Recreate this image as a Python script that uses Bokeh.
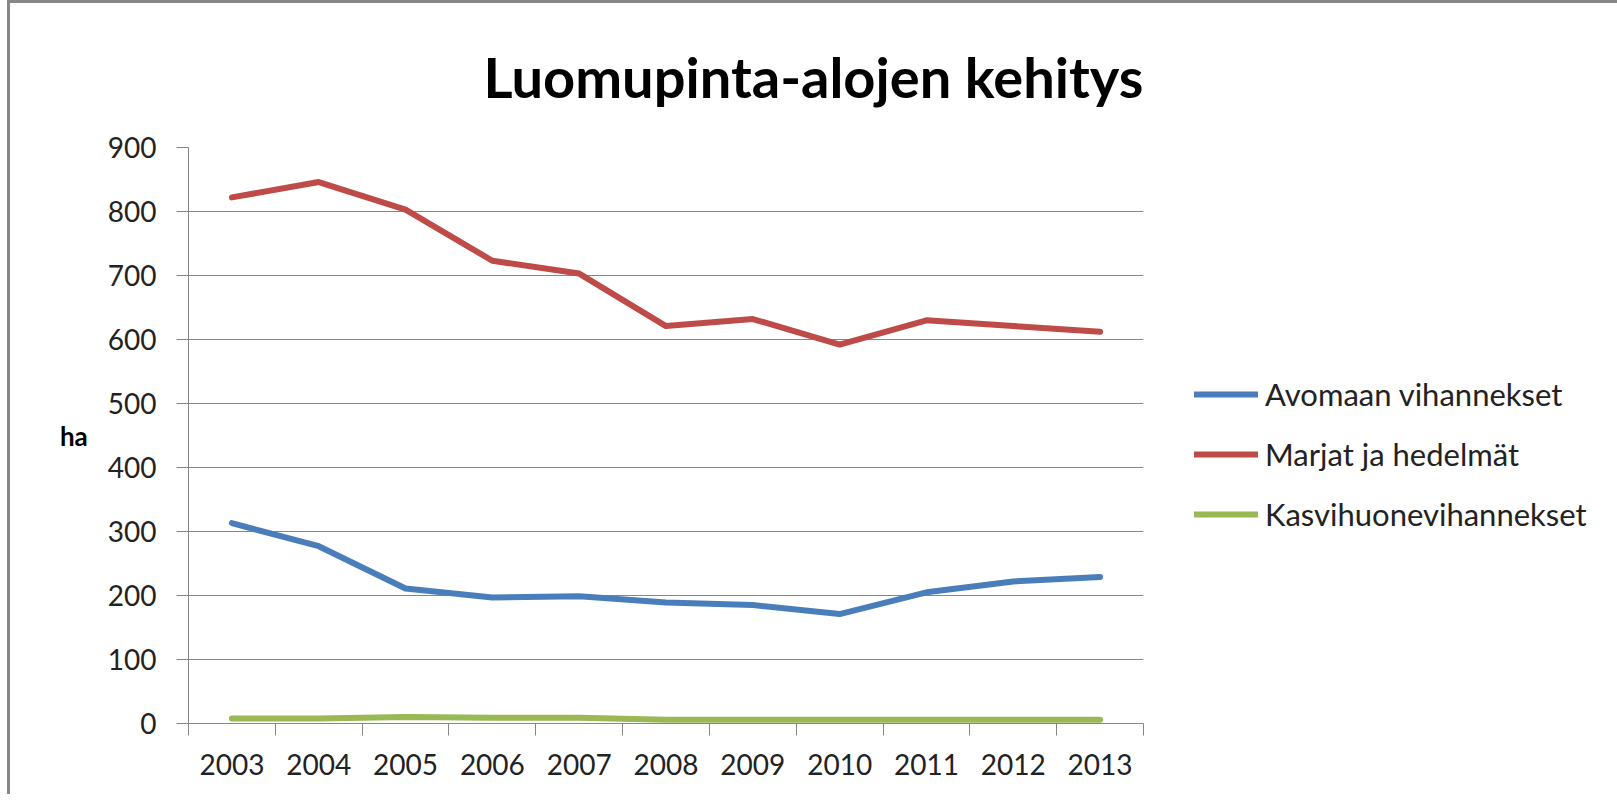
from bokeh.plotting import figure
from bokeh.models import (Range1d, LinearAxis, FixedTicker, Legend, LegendItem, Title)
from bokeh.embed import file_html
from bokeh.resources import INLINE

years = ["2003", "2004", "2005", "2006", "2007", "2008", "2009", "2010", "2011", "2012", "2013"]
avomaan = [313, 277, 211, 197, 199, 189, 185, 171, 205, 222, 229]
marjat = [822, 846, 803, 723, 703, 621, 632, 592, 630, 621, 612]
kasvihuone = [8, 8, 10, 9, 9, 6, 6, 6, 6, 6, 6]
y_ticks = [0, 100, 200, 300, 400, 500, 600, 700, 800, 900]
series_names = ["Avomaan vihannekset", "Marjat ja hedelmät", "Kasvihuonevihannekset"]
colors = ["#4A7EBB", "#BE4B48", "#98B954"]

FONT = "Lato"
GRID = "#868686"
TXT = "#222222"

# category slots: each year occupies one unit, centred at i + 0.5
slot_centres = [i + 0.5 for i in range(len(years))]
slot_edges = list(range(len(years) + 1))

p = figure(frame_width=955, frame_height=576, output_backend="svg", toolbar_location=None,
           x_range=Range1d(0, len(years)), y_range=Range1d(0, 900),
           x_axis_type=None, min_border_left=178, min_border_right=0,
           min_border_top=144, min_border_bottom=71)
p.styles = {"margin-left": "7px", "margin-top": "0px",
            "border-top": "3px solid #878787", "border-left": "3px solid #878787"}
p.outline_line_color = None
p.background_fill_color = "white"
p.border_fill_color = "white"

# title
p.title = Title(text="Luomupinta-alojen kehitys", align="left", offset=295, standoff=75,
                text_font=FONT, text_font_size="56px", text_font_style="bold",
                text_color="black")

# y axis
ya = p.yaxis[0]
ya.ticker = FixedTicker(ticks=y_ticks)
ya.axis_line_color = GRID
ya.major_tick_line_color = GRID
ya.major_tick_out = 12
ya.major_tick_in = 0
ya.minor_tick_line_color = None
ya.major_label_standoff = 20
ya.major_label_text_font = FONT
ya.major_label_text_font_size = "28px"
ya.major_label_text_color = TXT
ya.axis_label = "ha"
ya.axis_label_text_font = FONT
ya.axis_label_text_font_size = "26px"
ya.axis_label_text_font_style = "bold"
ya.axis_label_text_color = "black"
ya.axis_label_standoff = 17
try:
    ya.axis_label_orientation = "horizontal"
except Exception:
    pass
p.ygrid.grid_line_color = GRID
p.ygrid.grid_line_width = 1
p.ygrid.ticker = FixedTicker(ticks=y_ticks)

# x axis: labels at category centres, tick marks between categories
xa = LinearAxis(ticker=FixedTicker(ticks=slot_centres, minor_ticks=slot_edges),
                major_label_overrides={c: y for c, y in zip(slot_centres, years)})
xa.axis_line_color = GRID
xa.major_tick_line_color = None
xa.major_tick_out = 0
xa.major_tick_in = 0
xa.minor_tick_line_color = GRID
xa.minor_tick_out = 12
xa.minor_tick_in = 0
xa.major_label_standoff = 18
xa.major_label_text_font = FONT
xa.major_label_text_font_size = "28px"
xa.major_label_text_color = TXT
p.add_layout(xa, "below")

items = []
for name, vals, c in zip(series_names, [avomaan, marjat, kasvihuone], colors):
    r = p.line(slot_centres, vals, line_color=c, line_width=6, line_cap="round", line_join="round")
    items.append(LegendItem(label=name, renderers=[r]))

legend = Legend(items=items, location=(51, 190), orientation="vertical",
                glyph_width=64, glyph_height=36, label_height=36, spacing=22,
                label_standoff=7, padding=0, margin=0,
                label_text_font=FONT, label_text_font_size="31px", label_text_color=TXT,
                border_line_color=None, background_fill_alpha=0)
p.add_layout(legend, "right")

open("out.html", "w").write(file_html(p, INLINE))
